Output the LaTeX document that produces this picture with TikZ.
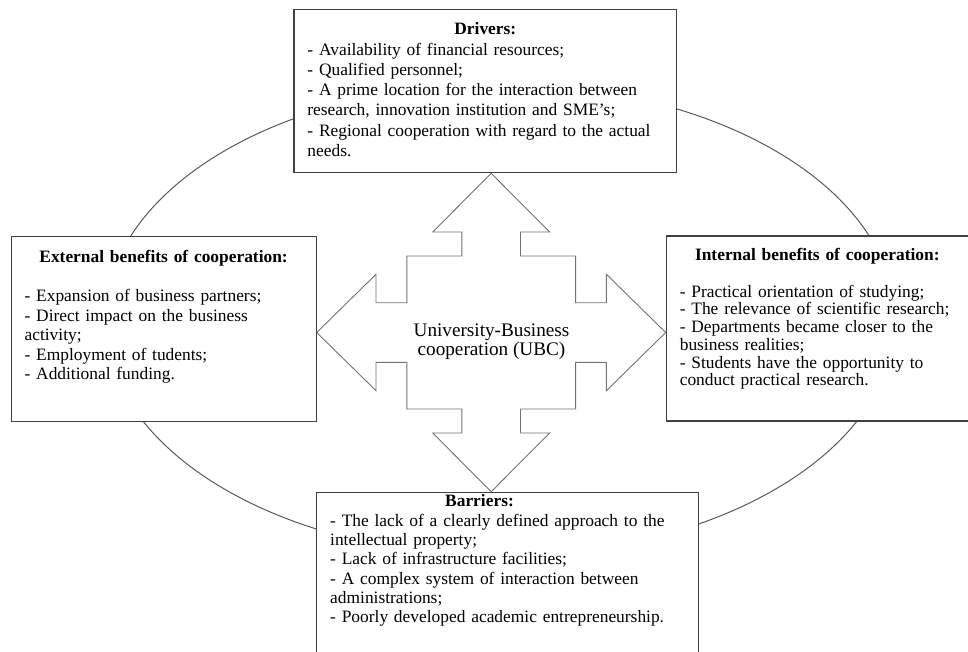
\documentclass[tikz,border=0pt]{standalone}
\usepackage{fontspec}
\setmainfont{Liberation Serif}
\usetikzlibrary{positioning}
\newcommand{\boxtitle}[1]{\centerline{\textbf{#1}}}
\tikzset{
    %Define style for the list boxes
    listbox/.style={
           rectangle,
           draw=black!75, line width=1.2pt,
           fill=white,
           align=left,
           inner xsep=13.5pt,
           inner ysep=0pt,
           font=\fontsize{17.4}{20.3}\selectfont},
    % Define style for the four-way arrow
    crossarrow/.style={
           draw=black!55,
           line width=0.9pt,
           fill=white},
    % Define style for the ring behind
    ringline/.style={
           draw=black!65,
           line width=1pt}
}
\begin{document}
\begin{tikzpicture}[x=1pt,y=-1pt,node distance=0pt]
\useasboundingbox (0,0) rectangle (968,652);

% ring
\draw[ringline] (500,320) ellipse [x radius=395, y radius=236];

% four-way arrow
\begin{scope}[shift={(491.2,332.5)}]
\draw[crossarrow] (0,-159.2) -- (58.5,-100.5) -- (29.3,-100.5) -- (29.3,-76.5)
    -- (84.4,-76.5) -- (84.4,-29.8) -- (115.2,-29.8) -- (115.2,-58.2)
    -- (174.5,0) -- (115.2,58.2) -- (115.2,29.8) -- (84.4,29.8)
    -- (84.4,76.5) -- (29.3,76.5) -- (29.3,100.5) -- (58.5,100.5)
    -- (0,159.2) -- (-58.5,100.5) -- (-29.3,100.5) -- (-29.3,76.5)
    -- (-84.4,76.5) -- (-84.4,29.8) -- (-115.2,29.8) -- (-115.2,58.2)
    -- (-174.5,0) -- (-115.2,-58.2) -- (-115.2,-29.8) -- (-84.4,-29.8)
    -- (-84.4,-76.5) -- (-29.3,-76.5) -- (-29.3,-100.5) -- (-58.5,-100.5) -- cycle;
\coordinate (tipN) at (0,-159.2);
\coordinate (tipS) at (0,159.2);
\coordinate (tipW) at (-174.5,0);
\coordinate (tipE) at (174.5,0);
\end{scope}

\node[font=\fontsize{19.2}{19.5}\selectfont, align=center] (ubc) at (491.5,341.5)
    {University-Business\\cooperation (UBC)};

\node[listbox, above=of tipN, xshift=-5.9pt, text width=355.7pt,
      text height=25.5pt, text depth=137.9pt] (drv){%
\boxtitle{Drivers:}
- Availability of financial resources;\\
- Qualified personnel;\\
- A prime location for the interaction between\\
research, innovation institution and SME’s;\\
- Regional cooperation with regard to the actual\\
needs.};

\node[listbox, left=of tipW, yshift=3.3pt, text width=278pt,
      font=\fontsize{17.4}{19.6}\selectfont,
      text height=25.5pt, text depth=159.5pt] (ext){%
\boxtitle{External benefits of cooperation:}\\[19.6pt]
- Expansion of business partners;\\
- Direct impact on the business\\
activity;\\
- Employment of tudents;\\
- Additional funding.};

\node[listbox, right=of tipE, yshift=4pt, text width=275pt,
      font=\fontsize{17.4}{17.7}\selectfont,
      text height=24.5pt, text depth=160.5pt] (int){%
\boxtitle{Internal benefits of cooperation:}\\[19pt]
- Practical orientation of studying;\\
- The relevance of scientific research;\\
- Departments became closer to the\\
business realities;\\
- Students have the opportunity to\\
conduct practical research.};

\node[listbox, below=of tipS, xshift=16.3pt, text width=354.6pt,
      font=\fontsize{17.4}{19.3}\selectfont,
      text height=14.5pt, text depth=170pt] (bar){%
\centerline{\textbf{Barriers:}\hspace{56pt}}
- The lack of a clearly defined approach to the\\
intellectual property;\\
- Lack of infrastructure facilities;\\
- A complex system of interaction between\\
administrations;\\
- Poorly developed academic entrepreneurship.};

\end{tikzpicture}
\end{document}
